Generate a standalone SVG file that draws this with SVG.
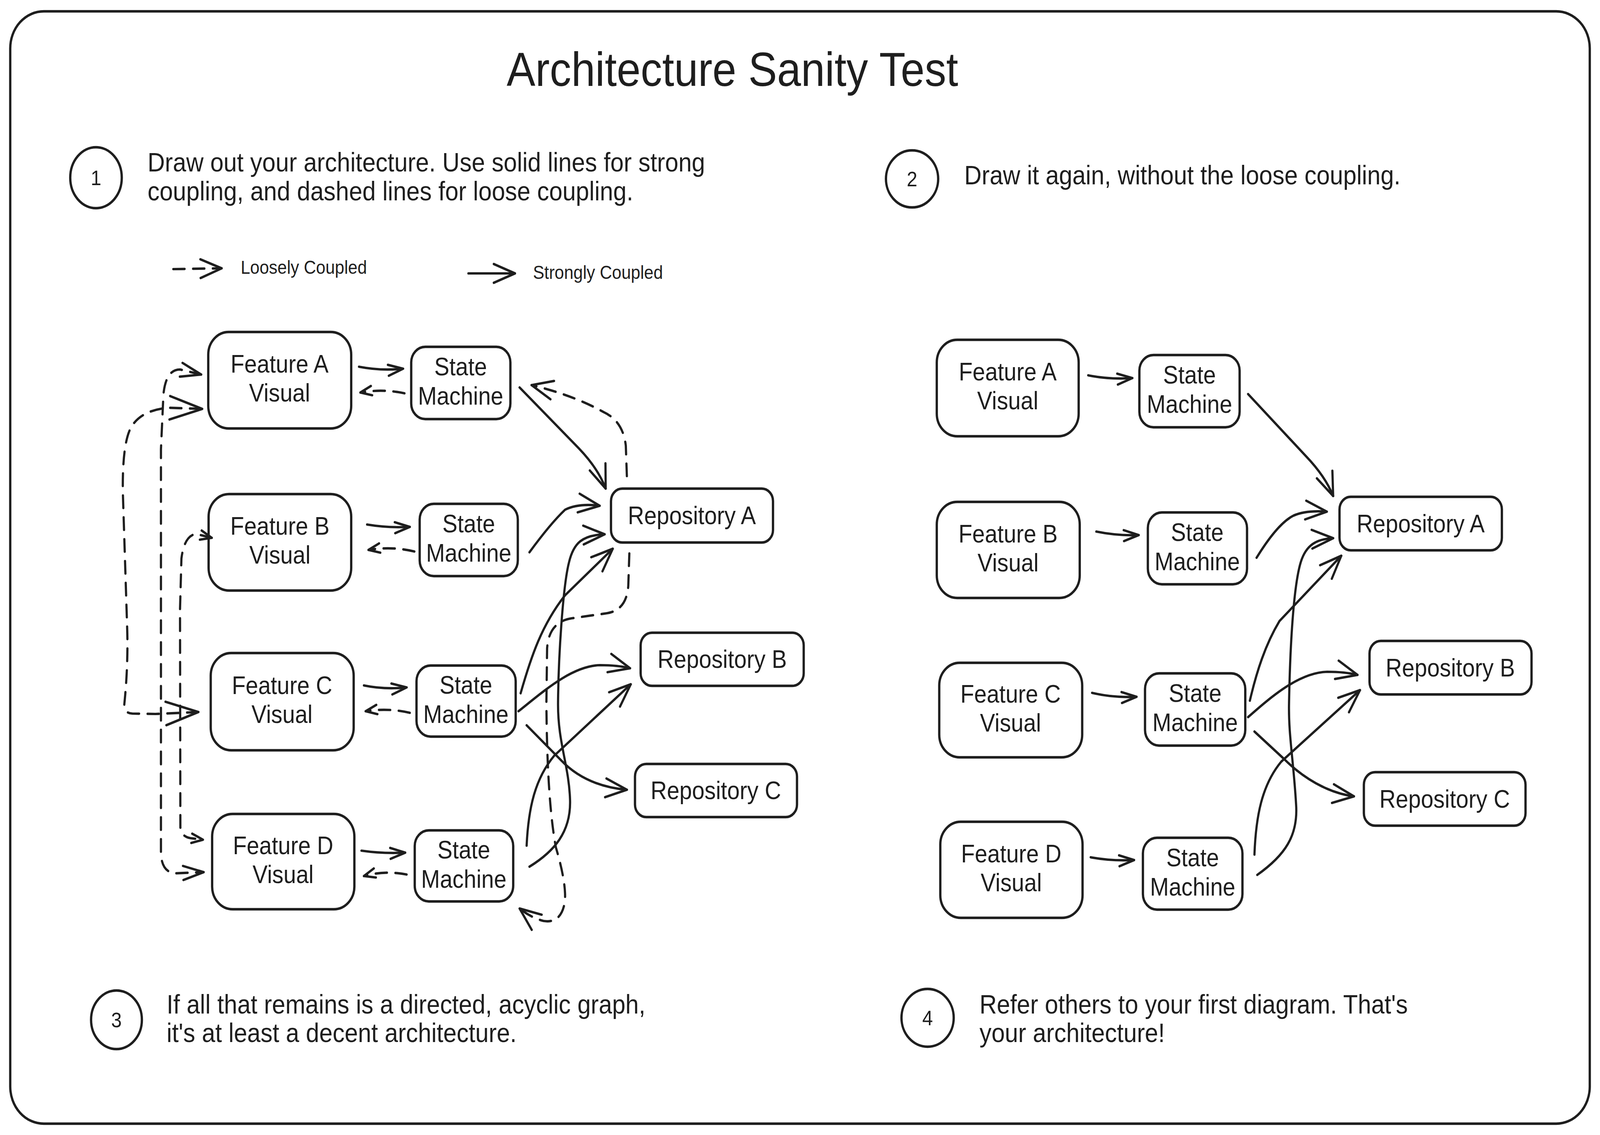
<svg xmlns="http://www.w3.org/2000/svg" width="4533" height="2906" viewBox="0 0 4533 2906" preserveAspectRatio="none">
<defs>
<style>
.bg{fill:#ffffff}
.frame{fill:none;stroke:#1e1e1e;stroke-width:6.5}
.n{fill:#ffffff;stroke:#1e1e1e;stroke-width:6.5}
.ring{fill:none;stroke:#1e1e1e;stroke-width:6.5}
.t{font-family:"Liberation Sans",Arial,sans-serif;fill:#1e1e1e}
.nt{font-size:64px;text-anchor:middle}
.bt{font-size:68px}
.num{font-size:54px;text-anchor:middle}
.lg{font-size:48px}
.title{font-size:122px;text-anchor:middle}
.c{fill:none;stroke:#1e1e1e;stroke-width:6.2;stroke-linecap:round;stroke-linejoin:round}
.d{stroke-dasharray:32 24}
.ah{fill:none;stroke:#1e1e1e;stroke-width:6.2;stroke-linecap:round;stroke-linejoin:round;stroke-dasharray:none}
@media (max-width: 4532px){:root{width:100vw;height:100vh}}
@media (max-height: 2905px){:root{width:100vw;height:100vh}}
</style>
<marker id="am" markerUnits="userSpaceOnUse" orient="auto-start-reverse" refX="0" refY="0" markerWidth="10" markerHeight="10" overflow="visible"><path class="ah" d="M-60 -24 L0 0 L-60 24"/></marker>
<marker id="an" markerUnits="userSpaceOnUse" orient="auto-start-reverse" refX="0" refY="0" markerWidth="10" markerHeight="10" overflow="visible"><path class="ah" d="M-58 -18 L0 0 L-58 18"/></marker>
<marker id="al" markerUnits="userSpaceOnUse" orient="auto-start-reverse" refX="0" refY="0" markerWidth="10" markerHeight="10" overflow="visible"><path class="ah" d="M-92 -30 L0 0 L-92 30"/></marker>
<marker id="as" markerUnits="userSpaceOnUse" orient="auto-start-reverse" refX="0" refY="0" markerWidth="10" markerHeight="10" overflow="visible"><path class="ah" d="M-42 -14 L0 0 L-42 14"/></marker>
<marker id="ax" markerUnits="userSpaceOnUse" orient="auto-start-reverse" refX="0" refY="0" markerWidth="10" markerHeight="10" overflow="visible"><path class="ah" d="M-32 -12 L0 0 L-32 12"/></marker>
</defs>
<rect class="bg" x="0" y="0" width="4533" height="2906"/>
<rect id="frame" class="frame" x="29" y="29" width="4475" height="2848" rx="95" ry="95"/>

<g id="title"><text class="t title" x="2075" y="220">Architecture Sanity Test</text></g>

<g id="step-1">
<ellipse class="ring" cx="272" cy="455" rx="73" ry="78"/>
<text class="t num" x="272" y="474">1</text>
<text class="t bt" x="418" y="439">Draw out your architecture. Use solid lines for strong</text>
<text class="t bt" x="418" y="513">coupling, and dashed lines for loose coupling.</text>
</g>
<g id="step-2">
<ellipse class="ring" cx="2584" cy="458" rx="74" ry="73"/>
<text class="t num" x="2584" y="477">2</text>
<text class="t bt" x="2732" y="472">Draw it again, without the loose coupling.</text>
</g>
<g id="step-3">
<ellipse class="ring" cx="330" cy="2611" rx="72" ry="75"/>
<text class="t num" x="330" y="2630">3</text>
<text class="t bt" x="472" y="2595">If all that remains is a directed, acyclic graph,</text>
<text class="t bt" x="472" y="2668">it's at least a decent architecture.</text>
</g>
<g id="step-4">
<ellipse class="ring" cx="2628" cy="2606" rx="74" ry="74"/>
<text class="t num" x="2628" y="2625">4</text>
<text class="t bt" x="2775" y="2595">Refer others to your first diagram. That's</text>
<text class="t bt" x="2775" y="2668">your architecture!</text>
</g>

<g id="legend">
<path class="c d" d="M491 689 L628 687" stroke-dasharray="36 28" marker-end="url(#am)"/>
<text class="t lg" x="682" y="701">Loosely Coupled</text>
<path class="c" d="M1327 700 L1459 700" marker-end="url(#am)"/>
<text class="t lg" x="1510" y="714">Strongly Coupled</text>
</g>

<g id="l-feature-a"><rect class="n" x="590" y="850" width="405" height="247" rx="58"/><text class="t nt"><tspan x="792" y="954">Feature A</tspan><tspan x="792" y="1028">Visual</tspan></text></g>
<g id="l-sm-a"><rect class="n" x="1165" y="888" width="281" height="185" rx="40"/><text class="t nt"><tspan x="1305" y="961">State</tspan><tspan x="1305" y="1036">Machine</tspan></text></g>
<g id="l-feature-b"><rect class="n" x="591" y="1265" width="404" height="247" rx="58"/><text class="t nt"><tspan x="793" y="1369">Feature B</tspan><tspan x="793" y="1443">Visual</tspan></text></g>
<g id="l-sm-b"><rect class="n" x="1189" y="1290" width="278" height="185" rx="40"/><text class="t nt"><tspan x="1328" y="1363">State</tspan><tspan x="1328" y="1438">Machine</tspan></text></g>
<g id="l-repo-a"><rect class="n" x="1731" y="1251" width="459" height="138" rx="32"/><text class="t nt" x="1960" y="1342">Repository A</text></g>
<g id="l-repo-b"><rect class="n" x="1815" y="1620" width="462" height="136" rx="32"/><text class="t nt" x="2046" y="1710">Repository B</text></g>
<g id="l-feature-c"><rect class="n" x="597" y="1672" width="405" height="249" rx="58"/><text class="t nt"><tspan x="799" y="1777">Feature C</tspan><tspan x="799" y="1851">Visual</tspan></text></g>
<g id="l-sm-c"><rect class="n" x="1180" y="1704" width="281" height="182" rx="40"/><text class="t nt"><tspan x="1320" y="1776">State</tspan><tspan x="1320" y="1851">Machine</tspan></text></g>
<g id="l-repo-c"><rect class="n" x="1799" y="1956" width="459" height="136" rx="32"/><text class="t nt" x="2028" y="2046">Repository C</text></g>
<g id="l-feature-d"><rect class="n" x="601" y="2084" width="403" height="244" rx="58"/><text class="t nt"><tspan x="802" y="2187">Feature D</tspan><tspan x="802" y="2261">Visual</tspan></text></g>
<g id="l-sm-d"><rect class="n" x="1175" y="2126" width="279" height="182" rx="40"/><text class="t nt"><tspan x="1314" y="2198">State</tspan><tspan x="1314" y="2273">Machine</tspan></text></g>

<g id="r-feature-a"><rect class="n" x="2654" y="870" width="402" height="247" rx="58"/><text class="t nt"><tspan x="2855" y="974">Feature A</tspan><tspan x="2855" y="1048">Visual</tspan></text></g>
<g id="r-sm-a"><rect class="n" x="3228" y="909" width="284" height="185" rx="40"/><text class="t nt"><tspan x="3370" y="982">State</tspan><tspan x="3370" y="1057">Machine</tspan></text></g>
<g id="r-feature-b"><rect class="n" x="2654" y="1285" width="405" height="246" rx="58"/><text class="t nt"><tspan x="2856" y="1389">Feature B</tspan><tspan x="2856" y="1463">Visual</tspan></text></g>
<g id="r-sm-b"><rect class="n" x="3252" y="1312" width="281" height="184" rx="40"/><text class="t nt"><tspan x="3392" y="1385">State</tspan><tspan x="3392" y="1460">Machine</tspan></text></g>
<g id="r-repo-a"><rect class="n" x="3795" y="1272" width="460" height="137" rx="32"/><text class="t nt" x="4025" y="1363">Repository A</text></g>
<g id="r-feature-c"><rect class="n" x="2661" y="1697" width="405" height="242" rx="58"/><text class="t nt"><tspan x="2863" y="1799">Feature C</tspan><tspan x="2863" y="1873">Visual</tspan></text></g>
<g id="r-sm-c"><rect class="n" x="3244" y="1724" width="284" height="185" rx="40"/><text class="t nt"><tspan x="3386" y="1797">State</tspan><tspan x="3386" y="1872">Machine</tspan></text></g>
<g id="r-repo-b"><rect class="n" x="3880" y="1641" width="459" height="137" rx="32"/><text class="t nt" x="4109" y="1732">Repository B</text></g>
<g id="r-repo-c"><rect class="n" x="3864" y="1977" width="458" height="137" rx="32"/><text class="t nt" x="4093" y="2068">Repository C</text></g>
<g id="r-feature-d"><rect class="n" x="2664" y="2104" width="403" height="246" rx="58"/><text class="t nt"><tspan x="2865" y="2208">Feature D</tspan><tspan x="2865" y="2282">Visual</tspan></text></g>
<g id="r-sm-d"><rect class="n" x="3238" y="2145" width="282" height="184" rx="40"/><text class="t nt"><tspan x="3379" y="2218">State</tspan><tspan x="3379" y="2293">Machine</tspan></text></g>

<g id="connectors">
<path class="c" d="M1017 939 Q1080 950 1142 944" marker-end="url(#as)"/>
<path class="c d" d="M1146 1007 Q1085 995 1021 1005" stroke-dasharray="22 18" marker-end="url(#ax)"/>
<path class="c" d="M1040 1343 Q1100 1352 1161 1349" marker-end="url(#as)"/>
<path class="c d" d="M1174 1412 Q1110 1398 1044 1408" stroke-dasharray="22 18" marker-end="url(#ax)"/>
<path class="c" d="M1031 1755 Q1090 1766 1152 1760" marker-end="url(#as)"/>
<path class="c d" d="M1161 1825 Q1100 1812 1036 1821" stroke-dasharray="22 18" marker-end="url(#ax)"/>
<path class="c" d="M1024 2178 Q1085 2186 1148 2183" marker-end="url(#as)"/>
<path class="c d" d="M1152 2239 Q1090 2228 1031 2243" stroke-dasharray="22 18" marker-end="url(#ax)"/>
<path class="c d" d="M562 1823 L440 1828 L375 1827 Q352 1826 352 1805 Q364 1700 360 1600 L348 1260 Q346 1120 378 1085 Q410 1048 480 1044 L573 1047" marker-start="url(#al)" marker-end="url(#al)"/>
<path class="c d" d="M570 959 L510 946 Q470 946 463 1010 L456 1150 L456 2185 Q458 2232 495 2236 L577 2233" marker-start="url(#an)" marker-end="url(#an)"/>
<path class="c d" d="M600 1377 L555 1367 Q522 1372 514 1430 L510 1560 L511 2118 Q513 2142 540 2146 L575 2150" marker-start="url(#ax)" marker-end="url(#ax)"/>
<path class="c" d="M1472 992 L1640 1148 Q1695 1200 1716 1251" marker-end="url(#am)"/>
<path class="c d" d="M1776 1219 L1773 1141 Q1765 1078 1710 1055 Q1625 1012 1506 986" marker-end="url(#am)"/>
<path class="c" d="M1500 1414 Q1560 1340 1601 1305 Q1640 1288 1699 1295" marker-end="url(#am)"/>
<path class="c" d="M1500 2219 C1570 2180 1618 2130 1615 2048 C1612 1960 1580 1900 1581 1800 C1582 1680 1595 1500 1612 1440 C1625 1390 1650 1370 1713 1368" marker-end="url(#am)"/>
<path class="c" d="M1475 1775 C1505 1680 1535 1600 1601 1524 L1736 1405" marker-end="url(#am)"/>
<path class="c" d="M1469 1821 C1540 1770 1620 1705 1700 1703 Q1750 1703 1785 1711" marker-end="url(#am)"/>
<path class="c" d="M1492 1857 L1589 1946 C1630 1985 1690 2015 1776 2022" marker-end="url(#am)"/>
<path class="c" d="M1492 2165 C1497 2070 1515 1995 1570 1935 L1787 1752" marker-end="url(#am)"/>
<path class="c d" d="M1783 1417 L1780 1500 Q1775 1562 1720 1570 L1620 1583 Q1555 1592 1550 1660 L1548 1800 Q1550 2050 1575 2170 Q1606 2265 1600 2310 Q1590 2365 1540 2358 Q1505 2350 1472 2326" marker-end="url(#am)"/>
<path class="c" d="M3083 961 Q3145 972 3208 968" marker-end="url(#as)"/>
<path class="c" d="M3106 1361 Q3165 1372 3226 1370" marker-end="url(#as)"/>
<path class="c" d="M3094 1774 Q3155 1787 3220 1784" marker-end="url(#as)"/>
<path class="c" d="M3090 2195 Q3150 2205 3213 2202" marker-end="url(#as)"/>
<path class="c" d="M3536 1009 L3700 1168 Q3755 1220 3777 1270" marker-end="url(#am)"/>
<path class="c" d="M3560 1428 Q3620 1340 3665 1320 Q3700 1306 3759 1310" marker-end="url(#am)"/>
<path class="c" d="M3562 2240 C3640 2190 3678 2140 3672 2060 C3665 1950 3650 1880 3652 1800 C3655 1650 3665 1500 3685 1440 C3700 1395 3730 1380 3777 1378" marker-end="url(#am)"/>
<path class="c" d="M3541 1794 C3560 1720 3585 1650 3625 1590 L3800 1423" marker-end="url(#am)"/>
<path class="c" d="M3536 1836 C3600 1785 3680 1722 3760 1720 Q3810 1720 3846 1728" marker-end="url(#am)"/>
<path class="c" d="M3554 1873 L3640 1945 C3690 1990 3760 2030 3836 2039" marker-end="url(#am)"/>
<path class="c" d="M3554 2188 C3558 2090 3575 2010 3630 1950 L3853 1767" marker-end="url(#am)"/>
</g>
</svg>
